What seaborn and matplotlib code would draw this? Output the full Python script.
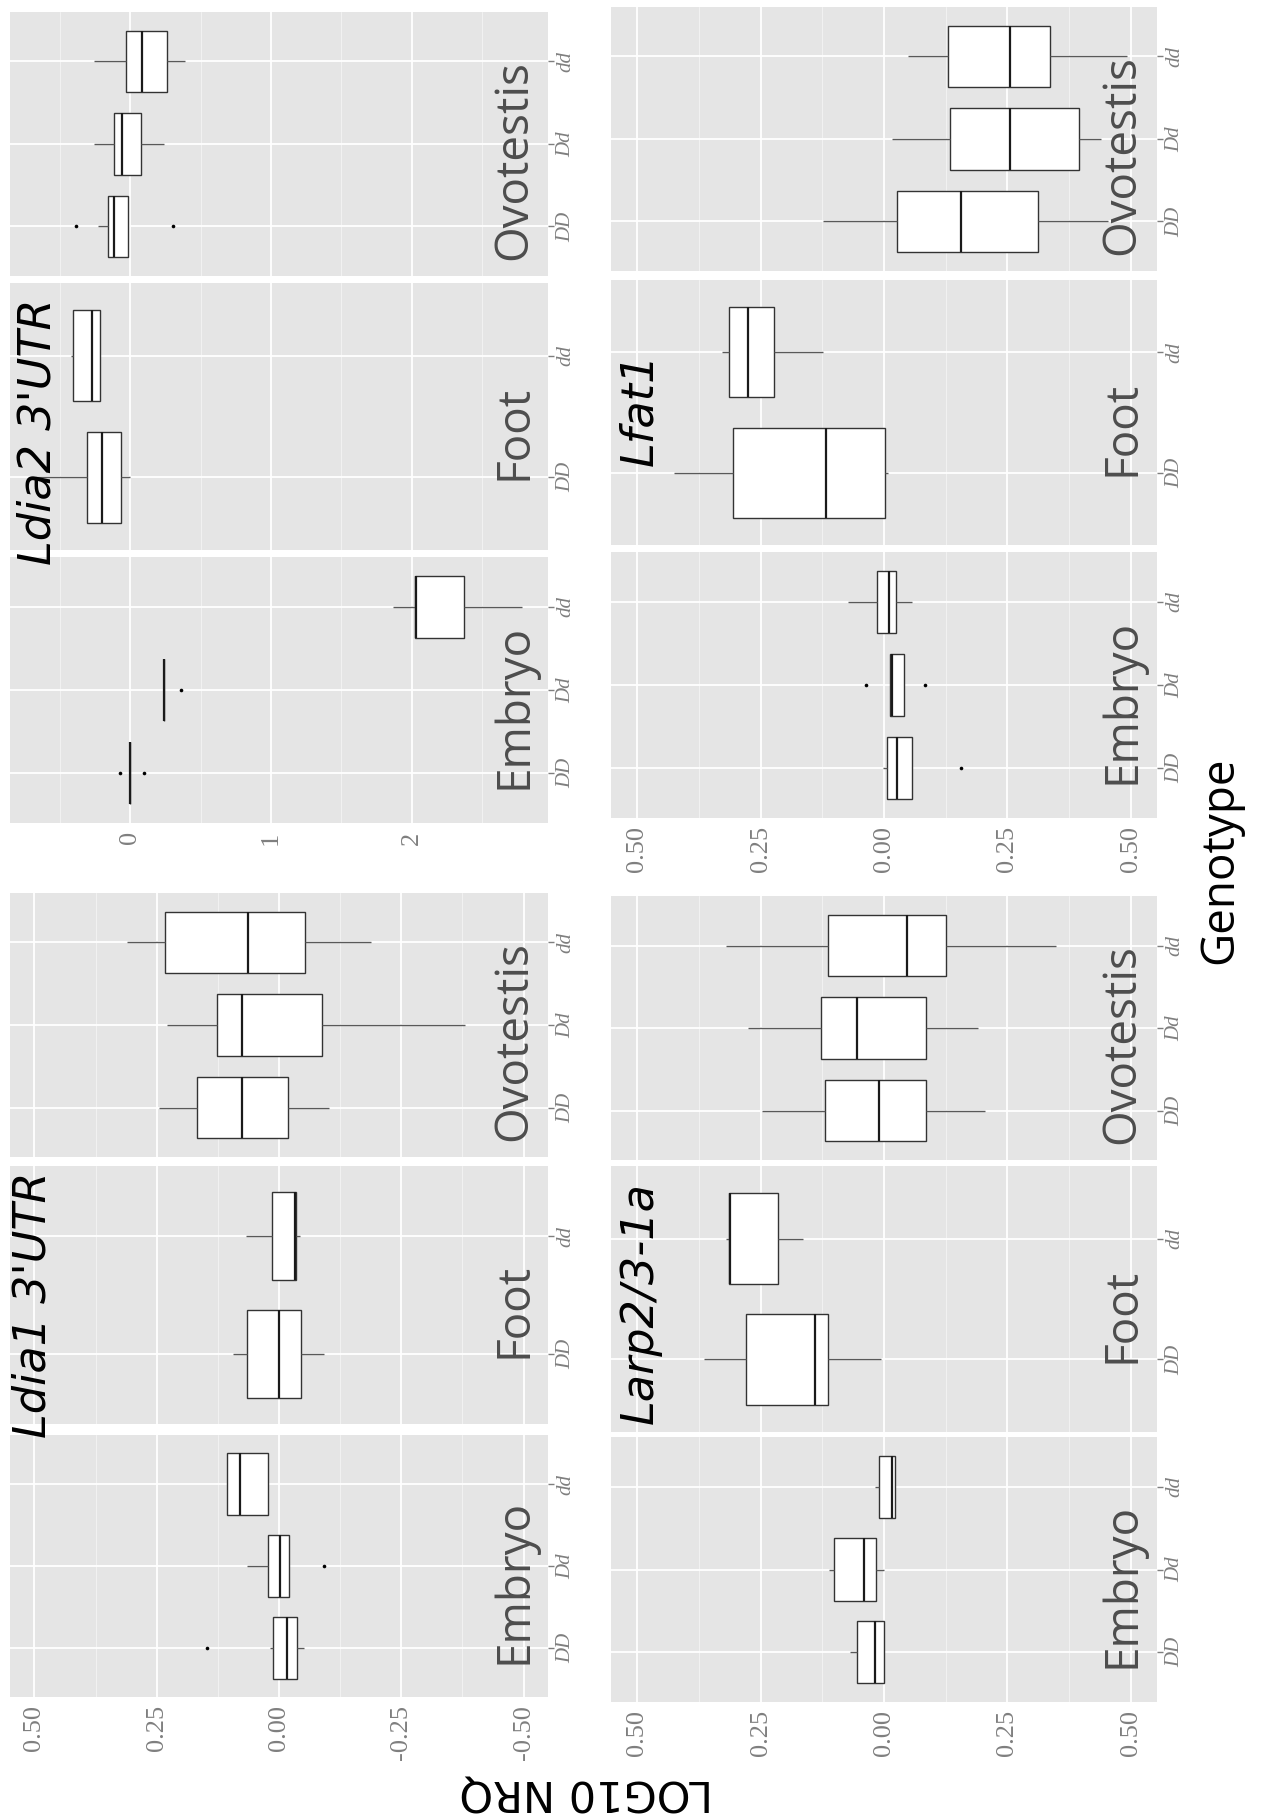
import numpy as np
import pandas as pd
import matplotlib
matplotlib.use("Agg")
import matplotlib.pyplot as plt
import seaborn as sns
from matplotlib.ticker import FixedLocator

# -------------------------------
# Data
# each row: [low whisker, Q1, median, Q3, high whisker]
# -------------------------------
genos_3 = ["DD", "Dd", "dd"]
genos_2 = ["DD", "dd"]

# Ldia1 3'UTR
ldia1_embryo = [[-0.052, -0.037, -0.016, 0.013, 0.019],
                [-0.021, -0.021, -0.003, 0.022, 0.065],
                [0.023, 0.023, 0.079, 0.107, 0.107]]
ldia1_embryo_out_g = ["DD", "Dd"]
ldia1_embryo_out_v = [0.148, -0.091]
ldia1_foot = [[-0.093, -0.046, 0.000, 0.065, 0.094],
              [-0.043, -0.035, -0.033, 0.015, 0.068]]
ldia1_ovo = [[-0.102, -0.018, 0.076, 0.168, 0.246],
             [-0.381, -0.087, 0.076, 0.126, 0.228],
             [-0.189, -0.054, 0.063, 0.234, 0.311]]

# Ldia2 3'UTR
ldia2_embryo = [[0.000, 0.000, 0.000, 0.000, 0.000],
                [0.239, 0.239, 0.239, 0.239, 0.239],
                [1.866, 2.026, 2.030, 2.376, 2.784]]
ldia2_embryo_out_g = ["DD", "DD", "Dd"]
ldia2_embryo_out_v = [-0.073, 0.093, 0.358]
ldia2_foot = [[-0.680, -0.312, -0.204, -0.067, -0.006],
              [-0.423, -0.408, -0.271, -0.219, -0.219]]
ldia2_ovo = [[-0.233, -0.160, -0.117, -0.015, -0.015],
             [-0.257, -0.117, -0.058, 0.073, 0.239],
             [-0.262, -0.029, 0.082, 0.262, 0.385]]
ldia2_ovo_out_g = ["DD", "DD"]
ldia2_ovo_out_v = [-0.388, 0.300]

# Larp2/3-1a
larp_embryo = [[0.000, 0.000, 0.019, 0.054, 0.068],
               [0.000, 0.017, 0.041, 0.101, 0.111],
               [-0.022, -0.022, -0.016, 0.011, 0.019]]
larp_foot = [[0.007, 0.114, 0.140, 0.280, 0.364],
             [0.165, 0.214, 0.312, 0.314, 0.320]]
larp_ovo = [[-0.205, -0.086, 0.011, 0.120, 0.247],
            [-0.191, -0.086, 0.054, 0.128, 0.276],
            [-0.348, -0.125, -0.047, 0.114, 0.320]]

# Lfat1
lfat1_embryo = [[-0.057, -0.057, -0.026, -0.006, 0.002],
                [-0.040, -0.040, -0.016, -0.012, -0.012],
                [-0.057, -0.024, -0.010, 0.015, 0.073]]
lfat1_embryo_out_g = ["DD", "Dd", "Dd"]
lfat1_embryo_out_v = [-0.156, 0.037, -0.084]
lfat1_foot = [[-0.008, -0.002, 0.118, 0.306, 0.425],
              [0.124, 0.223, 0.275, 0.313, 0.328]]
lfat1_ovo = [[-0.453, -0.312, -0.156, -0.026, 0.124],
             [-0.439, -0.395, -0.255, -0.134, -0.016],
             [-0.492, -0.337, -0.255, -0.130, -0.049]]

tissues = ["Ovotestis", "Foot", "Embryo"]

# axis scales
sym_ticks = [0.5, 0.25, 0.0, -0.25, -0.5]
sym_minor = [0.375, 0.125, -0.125, -0.375]
ldia1_ticklabels = ["0.50", "0.25", "0.00", "-0.25", "-0.50"]
right_ticklabels = ["0.50", "0.25", "0.00", "0.25", "0.50"]
ldia2_ticks = [0, 1, 2]
ldia2_minor = [-0.5, 0.5, 1.5, 2.5]
ldia2_ticklabels = ["0", "1", "2"]

# -------------------------------
# Style
# -------------------------------
sns.set_style("darkgrid")
plt.rcParams["font.family"] = ["DejaVu Sans"]

W, H = 1261, 1819
fig = plt.figure(figsize=(W / 100, H / 100), dpi=100)
TICK_COL = "#7f7f7f"


def add_panel(x0, x1, y0, y1):
    return fig.add_axes([x0 / W, 1 - y1 / H, (x1 - x0) / W, (y1 - y0) / H])


def draw_panel(ax, stats, genos, tissue, xlim, ticks, minor, ticklabels,
               out_g=None, out_v=None, show_labels=False):
    df = pd.DataFrame({"geno": np.repeat(genos, 5),
                       "nrq": np.concatenate(stats)})
    order = genos[::-1]
    sns.boxplot(data=df, x="nrq", y="geno", order=order, orient="h",
                whis=(0, 100), width=0.75, color="white", saturation=1,
                linecolor="#333333", linewidth=1.0, showcaps=False,
                fliersize=0, ax=ax,
                medianprops={"color": "#1a1a1a", "linewidth": 1.6},
                whiskerprops={"color": "#595959", "linewidth": 1.0})
    if out_g:
        sns.stripplot(x=out_v, y=out_g, order=order, orient="h", jitter=False,
                      color="black", size=2.6, linewidth=0, ax=ax)

    ax.set_facecolor("#E5E5E5")
    ax.set_xlim(xlim)
    ax.set_ylim(len(genos) - 1 + 0.6, -0.6)
    ax.set_xlabel("")
    ax.set_ylabel("")
    for s in ax.spines.values():
        s.set_visible(False)

    ax.xaxis.set_major_locator(FixedLocator(ticks))
    ax.xaxis.set_minor_locator(FixedLocator(minor))
    if show_labels:
        ax.set_xticklabels(ticklabels, rotation=90, family="Liberation Serif",
                           fontsize=19, color=TICK_COL)
    else:
        ax.set_xticklabels([])

    ax.yaxis.tick_right()
    ax.set_yticks(range(len(order)))
    ax.set_yticklabels(order, rotation=90, va="center", family="Liberation Serif",
                       style="italic", fontsize=15, color=TICK_COL)

    ax.tick_params(which="major", length=4, width=1, color=TICK_COL, pad=2)
    ax.tick_params(which="minor", length=0)
    ax.set_axisbelow(True)
    ax.grid(True, which="major", color="white", linewidth=1.3)
    ax.grid(True, which="minor", axis="x", color="#F2F2F2", linewidth=0.7)

    ax.text(0.937, 0.44, tissue, transform=ax.transAxes, rotation=90,
            ha="center", va="center", color="#4d4d4d", fontsize=33,
            family="Open Sans", zorder=5)


left_x = (10, 548)
right_x = (611, 1157)

blocks = [
    # (x range, row y ranges, stats, outliers, scale)
    (left_x, [(12, 276), (283, 550), (557, 823)],
     [ldia2_ovo, ldia2_foot, ldia2_embryo],
     [(ldia2_ovo_out_g, ldia2_ovo_out_v), (None, None),
      (ldia2_embryo_out_g, ldia2_embryo_out_v)],
     ((-0.857, 2.97), ldia2_ticks, ldia2_minor, ldia2_ticklabels)),
    (right_x, [(7, 271), (280, 545), (552, 818)],
     [lfat1_ovo, lfat1_foot, lfat1_embryo],
     [(None, None), (None, None), (lfat1_embryo_out_g, lfat1_embryo_out_v)],
     ((0.553, -0.553), sym_ticks, sym_minor, right_ticklabels)),
    (left_x, [(893, 1157), (1166, 1424), (1435, 1697)],
     [ldia1_ovo, ldia1_foot, ldia1_embryo],
     [(None, None), (None, None), (ldia1_embryo_out_g, ldia1_embryo_out_v)],
     ((0.55, -0.55), sym_ticks, sym_minor, ldia1_ticklabels)),
    (right_x, [(896, 1160), (1166, 1432), (1437, 1702)],
     [larp_ovo, larp_foot, larp_embryo],
     [(None, None), (None, None), (None, None)],
     ((0.553, -0.553), sym_ticks, sym_minor, right_ticklabels)),
]

for xr, rows, stats_list, outs, scale in blocks:
    xlim, ticks, minor, labels = scale
    for i, ((y0, y1), stats, (og, ov)) in enumerate(zip(rows, stats_list, outs)):
        ax = add_panel(xr[0], xr[1], y0, y1)
        genos = genos_2 if tissues[i] == "Foot" else genos_3
        draw_panel(ax, stats, genos, tissues[i], xlim, ticks, minor, labels,
                   out_g=og, out_v=ov, show_labels=(i == 2))

# gene titles
titles = ["Ldia2 3'UTR", "Lfat1", "Ldia1 3'UTR", "Larp2/3-1a"]
title_pos = [(38, 432), (640, 409), (33, 1305), (640, 1303)]
for t, (px, py) in zip(titles, title_pos):
    fig.text(px / W, 1 - py / H, t, rotation=90, ha="center", va="center",
             style="italic", fontsize=32, color="black", family="DejaVu Sans")

fig.text(1220 / W, 1 - 860 / H, "Genotype", rotation=90, ha="center",
         va="center", fontsize=33, family="Open Sans", color="black")
fig.text(586 / W, 1 - 1791 / H, "LOG10 NRQ", rotation=180, ha="center",
         va="center", fontsize=31, family="DejaVu Sans", color="black")

fig.savefig("out.png", dpi=100, facecolor="white")
